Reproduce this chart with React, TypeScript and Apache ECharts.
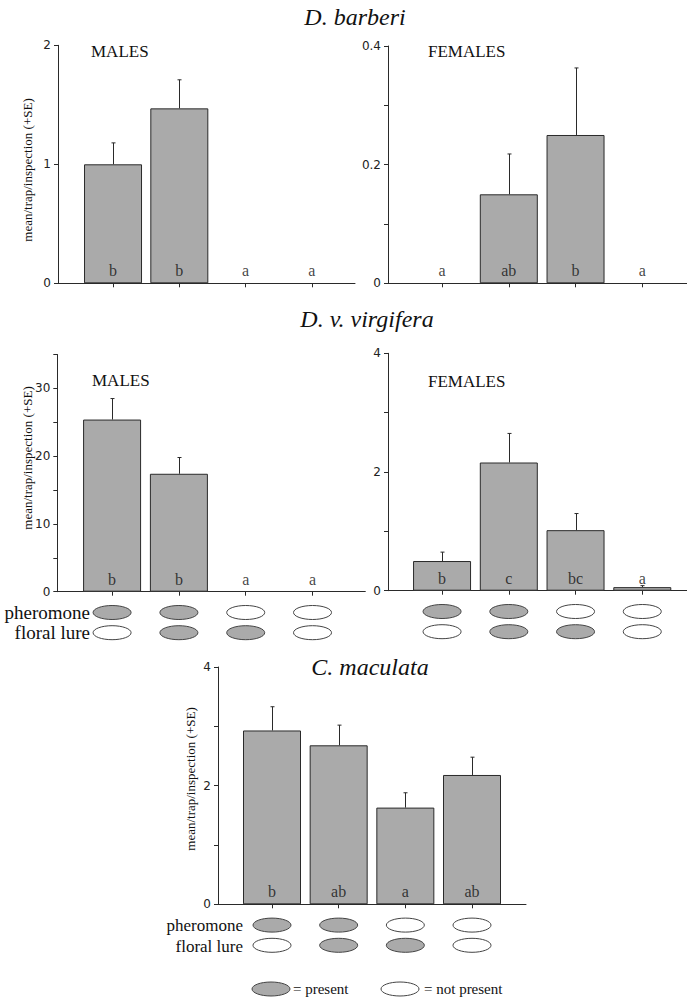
import React, { useEffect, useRef } from "react";
import * as echarts from "echarts";

// ---- data ----
const categories = ["pheromone", "pheromone + floral lure", "floral lure", "no lure"];
const pheromonePresent = [1, 1, 0, 0];
const floralPresent = [0, 1, 1, 0];

const barberiMales = [1.0, 1.47, 0, 0];
const barberiMalesSE = [0.18, 0.24, 0, 0];
const barberiMalesLetters = ["b", "b", "a", "a"];

const barberiFemales = [0, 0.15, 0.25, 0];
const barberiFemalesSE = [0, 0.068, 0.113, 0];
const barberiFemalesLetters = ["a", "ab", "b", "a"];

const virgiferaMales = [25.4, 17.4, 0, 0];
const virgiferaMalesSE = [3.1, 2.4, 0, 0];
const virgiferaMalesLetters = ["b", "b", "a", "a"];

const virgiferaFemales = [0.5, 2.16, 1.02, 0.06];
const virgiferaFemalesSE = [0.15, 0.49, 0.28, 0.025];
const virgiferaFemalesLetters = ["b", "c", "bc", "a"];

const maculataBoth = [2.93, 2.68, 1.63, 2.18];
const maculataBothSE = [0.4, 0.34, 0.25, 0.3];
const maculataLetters = ["b", "ab", "a", "ab"];

const SERIF = "Liberation Serif, Times New Roman, Times, serif";
const SANS = "DejaVu Sans, Verdana, sans-serif";
const BAR_FILL = "#aaaaaa";
const INK = "#2a2a2a";

const panels = [
  { values: barberiMales, se: barberiMalesSE, letters: barberiMalesLetters, lures: false,
    left: 58, top: 45.3, width: 297, height: 238, xMin: -0.83, xMax: 3.65, yMax: 2, yInterval: 1, labelStep: 1 },
  { values: barberiFemales, se: barberiFemalesSE, letters: barberiFemalesLetters, lures: false,
    left: 388, top: 46, width: 299, height: 237.3, xMin: -0.81, xMax: 3.67, yMax: 0.4, yInterval: 0.1, labelStep: 2 },
  { values: virgiferaMales, se: virgiferaMalesSE, letters: virgiferaMalesLetters, lures: true,
    left: 57.3, top: 354.5, width: 308, height: 237.2, xMin: -0.82, xMax: 3.79, yMax: 35, yInterval: 5, labelStep: 2 },
  { values: virgiferaFemales, se: virgiferaFemalesSE, letters: virgiferaFemalesLetters, lures: true,
    left: 388, top: 353.3, width: 299, height: 237.4, xMin: -0.81, xMax: 3.67, yMax: 4, yInterval: 1, labelStep: 2 },
  { values: maculataBoth, se: maculataBothSE, letters: maculataLetters, lures: true,
    left: 218, top: 667, width: 308, height: 237.3, xMin: -0.81, xMax: 3.81, yMax: 4, yInterval: 1, labelStep: 2 },
];

function buildOption() {
  const grid: any[] = [];
  const xAxis: any[] = [];
  const yAxis: any[] = [];
  const series: any[] = [];

  panels.forEach((p, i) => {
    grid.push({ left: p.left, top: p.top, width: p.width, height: p.height, containLabel: false, outerBoundsMode: "none" });
    xAxis.push({
      type: "value", gridIndex: i, min: p.xMin, max: p.xMax,
      axisLine: { show: true, onZero: false, lineStyle: { color: INK, width: 1 } },
      axisTick: { show: true, customValues: [0, 1, 2, 3], length: 4, lineStyle: { color: INK } },
      axisLabel: { show: false },
      splitLine: { show: false },
    });
    const step = p.labelStep;
    const iv = p.yInterval;
    yAxis.push({
      type: "value", gridIndex: i, min: 0, max: p.yMax, interval: p.yInterval,
      axisLine: { show: true, onZero: false, lineStyle: { color: INK, width: 1 } },
      axisTick: { show: true, length: 4, lineStyle: { color: INK } },
      axisLabel: {
        fontFamily: SANS, fontSize: 12, color: "#222", margin: 7,
        formatter: (v: number) => {
          const k = Math.round(v / iv);
          return k % step === 0 ? String(+v.toFixed(2)) : "";
        },
      },
      splitLine: { show: false },
    });

    series.push({
      type: "bar", xAxisIndex: i, yAxisIndex: i, barWidth: 58,
      data: p.values.map((v, k) => ({
        value: [k, v],
        itemStyle: v === 0 ? { borderWidth: 0, color: "rgba(0,0,0,0)" } : undefined,
      })),
      itemStyle: { color: BAR_FILL, borderColor: INK, borderWidth: 1 },
      z: 2,
    });
    series.push({
      type: "custom", xAxisIndex: i, yAxisIndex: i, z: 3,
      data: p.values.map((v, k) => [k, v, p.se[k]]).filter((d) => d[2] > 0),
      renderItem: (params: any, api: any) => {
        const x = api.value(0), v = api.value(1), s = api.value(2);
        const a = api.coord([x, v]);
        const b = api.coord([x, v + s]);
        const cx = Math.round(a[0]) + 0.5;
        const st = { stroke: INK, lineWidth: 1 };
        return {
          type: "group",
          children: [
            { type: "line", shape: { x1: cx, y1: a[1], x2: cx, y2: b[1] }, style: st },
            { type: "line", shape: { x1: cx - 2, y1: b[1], x2: cx + 2, y2: b[1] }, style: st },
          ],
        };
      },
    });
    series.push({
      type: "scatter", xAxisIndex: i, yAxisIndex: i, z: 4, symbolSize: 1,
      itemStyle: { color: "rgba(0,0,0,0)" },
      data: p.letters.map((l, k) => ({ value: [k, 0], label: { formatter: l } })),
      label: { show: true, position: "top", distance: 4, fontFamily: SERIF, fontSize: 16, color: "#111" },
    });
    if (p.lures) {
      series.push({
        type: "custom", xAxisIndex: i, yAxisIndex: i, z: 3, clip: false,
        data: categories.map((c, k) => [k, pheromonePresent[k], floralPresent[k]]),
        renderItem: (params: any, api: any) => {
          const pt = api.coord([api.value(0), 0]);
          const mk = (dy: number, on: number) => ({
            type: "ellipse",
            shape: { cx: pt[0], cy: pt[1] + dy, rx: 19, ry: 7 },
            style: { fill: on ? BAR_FILL : "#ffffff", stroke: "#444", lineWidth: 1 },
          });
          return { type: "group", children: [mk(20.8, api.value(1)), mk(41, api.value(2))] };
        },
      });
    }
  });

  const t = (x: number, y: number, text: string, size: number, opts: any = {}) => ({
    type: "text", x, y, rotation: opts.rotation || 0,
    style: {
      text, fill: "#111",
      fontFamily: SERIF, fontSize: size, fontStyle: opts.italic ? "italic" : "normal",
      textAlign: opts.align || "left", align: opts.align || "left",
      textVerticalAlign: "middle", verticalAlign: "middle",
    },
  });
  const ell = (cx: number, cy: number, on: boolean) => ({
    type: "ellipse", shape: { cx, cy, rx: 19, ry: 7 },
    style: { fill: on ? BAR_FILL : "#ffffff", stroke: "#444", lineWidth: 1 },
  });
  const yName = "mean/trap/inspection (+SE)";

  const graphic = [
    t(355, 17, "D. barberi", 24, { italic: true, align: "center" }),
    t(367, 319, "D. v. virgifera", 24, { italic: true, align: "center" }),
    t(370, 667, "C. maculata", 24, { italic: true, align: "center" }),
    t(91, 51, "MALES", 17),
    t(428, 51, "FEMALES", 17),
    t(92, 380, "MALES", 17),
    t(428, 381, "FEMALES", 17),
    t(27, 170, yName, 13, { rotation: Math.PI / 2, align: "center" }),
    t(27, 458, yName, 13, { rotation: Math.PI / 2, align: "center" }),
    t(190, 779, yName, 13, { rotation: Math.PI / 2, align: "center" }),
    t(90, 612, "pheromone", 19, { align: "right" }),
    t(90, 632, "floral lure", 19, { align: "right" }),
    t(243, 925, "pheromone", 17, { align: "right" }),
    t(243, 946, "floral lure", 17, { align: "right" }),
    ell(271, 989, true),
    t(293, 989, "= present", 15),
    ell(400, 989, false),
    t(424, 989, "= not present", 15),
  ];

  return { animation: false, backgroundColor: "#ffffff", grid, xAxis, yAxis, series, graphic };
}

export default function App() {
  const ref = useRef<HTMLDivElement>(null);
  useEffect(() => {
    if (!ref.current) return;
    const chart = echarts.init(ref.current, undefined, { renderer: "svg" });
    chart.setOption(buildOption() as any);
    return () => chart.dispose();
  }, []);
  return (
    <div
      ref={ref}
      style={{ position: "absolute", left: 0, top: 0, width: 687, height: 997, background: "#fff" }}
    />
  );
}
